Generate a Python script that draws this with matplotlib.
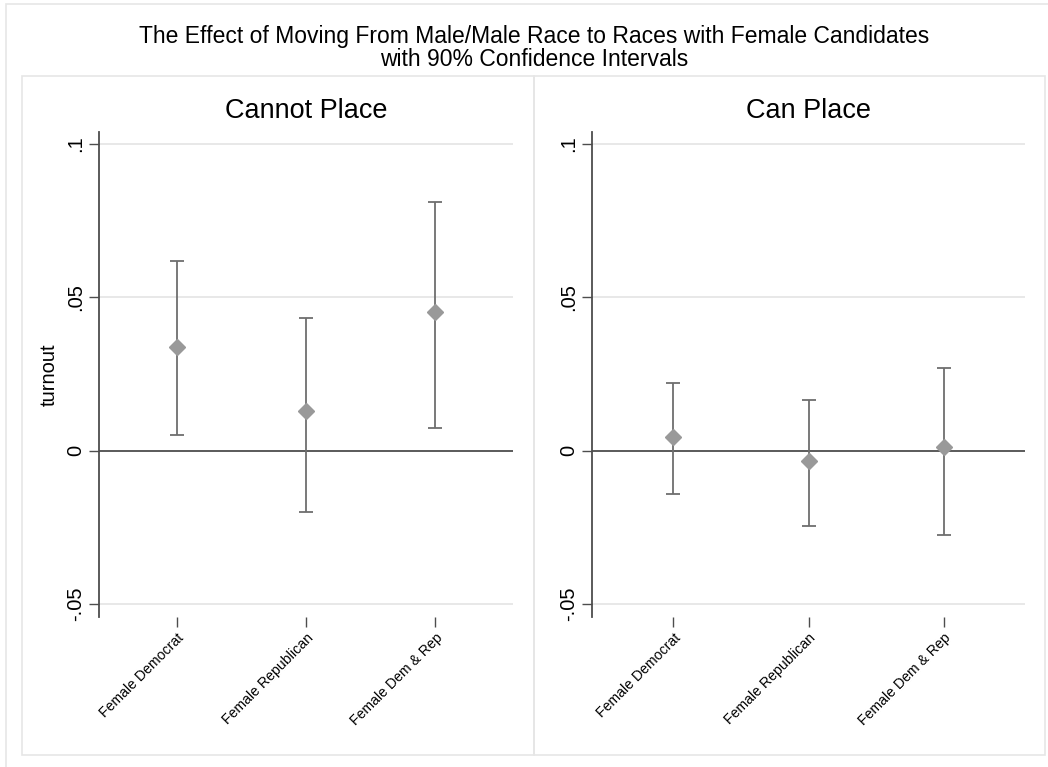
import matplotlib
matplotlib.use("Agg")
import matplotlib.pyplot as plt
from matplotlib.patches import Rectangle

plt.rcParams["font.family"] = ["Liberation Sans", "DejaVu Sans"]

categories = ["Female Democrat", "Female Republican", "Female Dem & Rep"]
panels = ["Cannot Place", "Can Place"]

# point estimates and 90% CI bounds, one list per panel
est_cannot = [0.0339, 0.0130, 0.0452]
lo_cannot = [0.0050, -0.0201, 0.0073]
hi_cannot = [0.0618, 0.0433, 0.0810]

est_can = [0.0044, -0.0033, 0.0013]
lo_can = [-0.0142, -0.0246, -0.0275]
hi_can = [0.0220, 0.0165, 0.0270]

yticks = [-0.05, 0, 0.05, 0.1]
yticklabels = ["-.05", "0", ".05", ".1"]

W, H = 1048, 767
fig = plt.figure(figsize=(W / 100, H / 100), dpi=100)


def px_rect(x0, y0, x1, y1):
    # pixel box (top-left origin) -> figure fraction [l, b, w, h]
    return [x0 / W, (H - y1) / H, (x1 - x0) / W, (y1 - y0) / H]


border = "#e6e6e6"
# outer frame and the two panel frames
for x0, y0, x1, y1 in [(6, 4, 1052, 772), (22, 76, 534, 755), (534, 76, 1045, 755)]:
    l, b, w, h = px_rect(x0, y0, x1, y1)
    fig.add_artist(Rectangle((l, b), w, h, transform=fig.transFigure,
                             fill=False, edgecolor=border, linewidth=1.2))

fig.text(534 / W, 1 - 25 / H,
         "The Effect of Moving From Male/Male Race to Races with Female Candidates\n"
         "with 90% Confidence Intervals",
         ha="center", va="top", fontsize=16.5, linespacing=0.98)

axes_px = [(99, 132, 513, 617), (592, 132, 1025, 617)]
data = [(est_cannot, lo_cannot, hi_cannot), (est_can, lo_can, hi_can)]

for i, (box, (est, lo, hi)) in enumerate(zip(axes_px, data)):
    ax = fig.add_axes(px_rect(*box))
    x = list(range(1, len(categories) + 1))
    yerr = [[e - l for e, l in zip(est, lo)], [h - e for e, h in zip(est, hi)]]
    for yv in [-0.05, 0.05, 0.1]:
        ax.axhline(yv, color="#e8e8e8", linewidth=1.4, zorder=0)
    ax.axhline(0, color="#4d4d4d", linewidth=1.3, zorder=1)
    ax.errorbar(x, est, yerr=yerr, fmt="none", ecolor="#6e6e6e",
                elinewidth=1.3, capsize=5, capthick=1.3, zorder=2)
    ax.plot(x, est, linestyle="none", marker="D", markersize=8,
            color="#999999", markeredgecolor="#999999", zorder=3)

    ax.set_xlim(0.4, 3.6)
    ax.set_ylim(-0.0542, 0.1039)
    ax.set_yticks(yticks)
    ax.set_yticklabels(yticklabels, fontsize=14.5, rotation=90, va="center")
    ax.set_xticks(x)
    ax.set_xticklabels(categories, fontsize=10.2, rotation=45, ha="right",
                       va="top", rotation_mode="anchor")
    ax.tick_params(axis="y", length=7, width=1, color="#4d4d4d", pad=3)
    ax.tick_params(axis="x", length=7, width=1, color="#4d4d4d", pad=3)
    for s in ["top", "right", "bottom"]:
        ax.spines[s].set_visible(False)
    ax.spines["left"].set_color("#4d4d4d")
    ax.spines["left"].set_linewidth(1.3)
    ax.patch.set_alpha(0)
    ax.set_title(panels[i], fontsize=19.5, pad=10)
    if i == 0:
        ax.set_ylabel("turnout", fontsize=14.5, labelpad=5)

fig.savefig("out.png", dpi=100, facecolor="white")
